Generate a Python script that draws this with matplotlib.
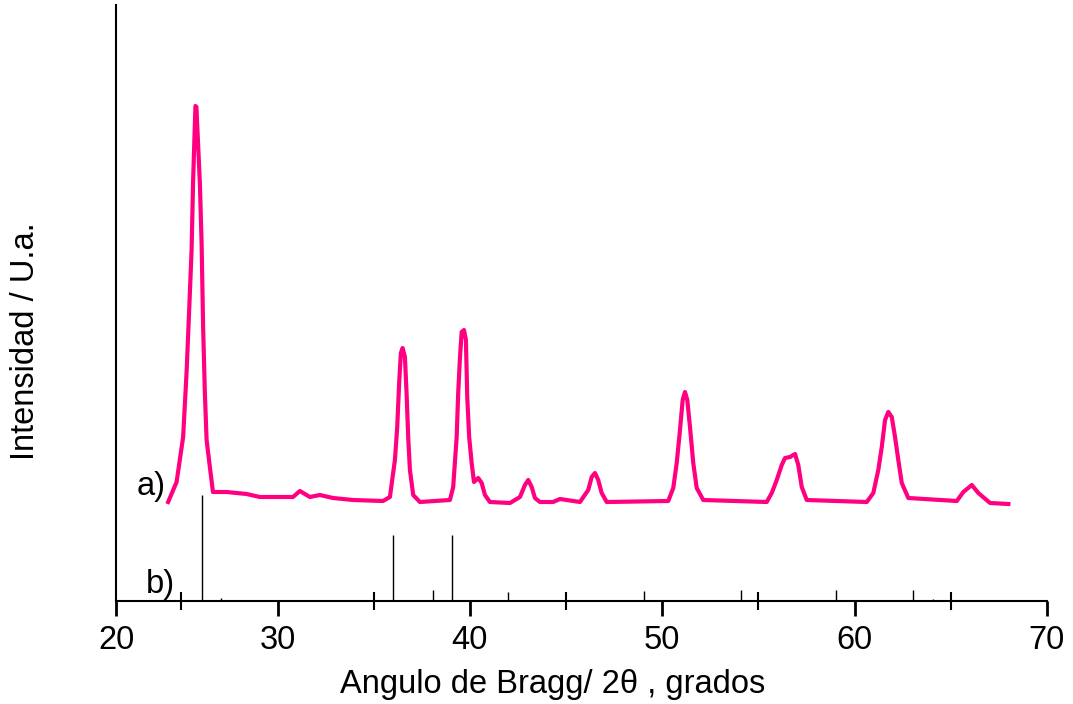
import matplotlib
matplotlib.use('Agg')
import matplotlib.pyplot as plt

PINK = '#FF0080'

# a) measured diffractogram (2theta, intensity in arbitrary units)
two_theta = [24.31, 24.75, 25.09, 25.27, 25.40, 25.53, 25.61, 25.73, 25.78, 25.96,
             26.05, 26.13, 26.22, 26.31, 26.48, 26.64, 26.91, 27.35, 28.39, 29.08,
             29.95, 30.80, 31.16, 31.68, 32.20, 32.88, 33.92, 35.48, 35.84, 36.10,
             36.22, 36.32, 36.41, 36.50, 36.62, 36.71, 36.79, 36.88, 37.05, 37.40,
             38.96, 39.13, 39.31, 39.39, 39.48, 39.57, 39.69, 39.79, 39.86, 39.96,
             40.09, 40.21, 40.43, 40.61, 40.78, 41.04, 42.08, 42.60, 42.86, 43.03,
             43.21, 43.38, 43.64, 44.32, 44.68, 45.72, 46.15, 46.33, 46.50, 46.67,
             46.85, 47.11, 50.31, 50.57, 50.75, 50.92, 51.06, 51.18, 51.30, 51.44,
             51.61, 51.79, 52.13, 55.43, 55.69, 55.95, 56.21, 56.38, 56.64, 56.90,
             57.07, 57.25, 57.51, 60.63, 60.97, 61.23, 61.41, 61.58, 61.75, 61.93,
             62.10, 62.27, 62.45, 62.79, 65.31, 65.65, 66.09, 66.43, 67.04, 67.99]
intensity = [99, 119, 164, 229, 289, 351, 421, 495, 494, 418,
             358, 273, 208, 161, 134, 109, 109, 109, 107, 104,
             104, 104, 110, 104, 106, 103, 101, 100, 104, 141,
             174, 218, 248, 253, 244, 206, 164, 131, 106, 99,
             101, 114, 164, 208, 243, 269, 271, 261, 204, 164,
             138, 119, 123, 118, 106, 99, 98, 104, 116, 121,
             114, 103, 99, 99, 102, 99, 111, 124, 128, 121,
             108, 99, 100, 113, 138, 171, 201, 209, 201, 174,
             138, 113, 101, 99, 108, 121, 136, 143, 144, 147,
             136, 114, 101, 99, 108, 131, 154, 181, 189, 184,
             164, 141, 118, 103, 100, 109, 116, 108, 98, 97]

# b) reference pattern (stick positions and heights)
ref_pos = [26.05, 27.05, 36.01, 38.06, 39.05, 41.98, 49.05, 54.09, 59.03, 63.04, 64.06]
ref_int = [106, 3, 66, 11, 66, 9, 10, 11, 11, 11, 2]

X_START = 21.6
major_ticks = [X_START, 30, 40, 50, 60, 70]
major_labels = ['20', '30', '40', '50', '60', '70']
minor_ticks = [25, 35, 45, 55, 65]

FS = 23.5
plt.rcParams['font.family'] = ['Liberation Sans', 'DejaVu Sans']

fig = plt.figure(figsize=(10.73, 7.04), dpi=100)
ax = fig.add_axes([116 / 1073, 103 / 704, 931 / 1073, 596 / 704])

ax.plot(two_theta, intensity, color=PINK, lw=3.0, solid_joinstyle='round', zorder=3)
ax.vlines(ref_pos, 0, ref_int, color='black', lw=1.0, zorder=2)

ax.set_xlim(X_START, 70)
ax.set_ylim(0, 596)
ax.set_xticks(major_ticks)
ax.set_xticklabels(major_labels, fontsize=FS)
ax.set_xticks(minor_ticks, minor=True)
ax.set_yticks([])
ax.tick_params(axis='x', which='major', direction='out', length=11, width=2, pad=6)
ax.tick_params(axis='x', which='minor', direction='inout', length=13, width=1.5)

ax.spines[['top', 'right']].set_visible(False)
ax.spines['left'].set_linewidth(1.5)
ax.spines['bottom'].set_linewidth(1.5)

fig.text(553 / 1073, 1 - 684 / 704, 'Angulo de Bragg/ 2θ , grados',
         ha='center', va='center', fontsize=FS)
fig.text(26 / 1073, 1 - 341 / 704, 'Intensidad / U.a.', rotation=90,
         ha='center', va='center', fontsize=FS)
fig.text(151 / 1073, 1 - 487 / 704, 'a)', ha='center', va='center', fontsize=FS)
fig.text(160 / 1073, 1 - 584 / 704, 'b)', ha='center', va='center', fontsize=FS)

fig.savefig('out.png', dpi=100, facecolor='white')
